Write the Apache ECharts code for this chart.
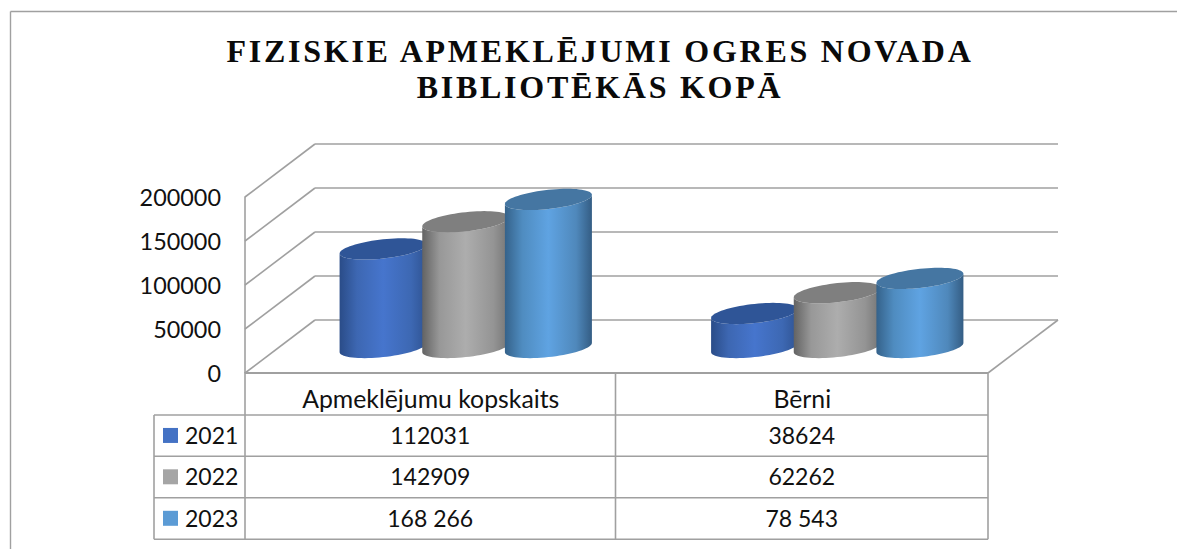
<!DOCTYPE html>
<html>
<head>
<meta charset="utf-8">
<style>
html,body{margin:0;padding:0;background:#fff;}
#c{width:1177px;height:549px;}
svg text[style*="Liberation Serif"]{letter-spacing:2.75px;}
</style>
<script src="https://cdn.jsdelivr.net/npm/echarts@6/dist/echarts.min.js"></script>
</head>
<body>
<div id="c"></div>
<script>
const titleText = 'FIZISKIE APMEKLĒJUMI OGRES NOVADA\nBIBLIOTĒKĀS KOPĀ';
const categories = ['Apmeklējumu kopskaits', 'Bērni'];
const years = ['2021', '2022', '2023'];
const values2021 = [112031, 38624];
const values2022 = [142909, 62262];
const values2023 = [168266, 78543];
const tableText2021 = ['112031', '38624'];
const tableText2022 = ['142909', '62262'];
const tableText2023 = ['168 266', '78 543'];
const yTicks = [0, 50000, 100000, 150000, 200000];

const seriesValues = [values2021, values2022, values2023];
const tableText = [tableText2021, tableText2022, tableText2023];
const keyColors = ['#4472c4', '#a5a5a5', '#5b9bd5'];
const sideStops = [
  ['#2a4c88', '#3d67b2', '#4675cd', '#3d68b3', '#2f5392'],
  ['#636363', '#989898', '#adadad', '#949494', '#747474'],
  ['#35628a', '#4f8cc0', '#5fa3e2', '#4f88bb', '#345d84']
];
const topColors = ['#2f5597', '#7f7f7f', '#4576a2'];
const lineColor = '#a0a0a0';
const DEPTH_X = 70, DEPTH_Y = -53;

function wallItem(params, api) {
  const cs = params.coordSys;
  const y = api.coord([0, api.value(0)])[1];
  const x0 = cs.x;
  const x1 = x0 + DEPTH_X, y1 = y + DEPTH_Y, x2 = cs.x + cs.width + DEPTH_X;
  const st = {stroke: lineColor, lineWidth: 1.6, fill: null};
  return {
    type: 'group',
    children: [
      {type: 'line', shape: {x1: x0, y1: y, x2: x1, y2: y1}, style: st},
      {type: 'line', shape: {x1: x1, y1: y1, x2: x2, y2: y1}, style: st}
    ]
  };
}

function floorItem(params) {
  const cs = params.coordSys;
  const r = cs.x + cs.width, b = cs.y + cs.height;
  return {type: 'line', shape: {x1: r, y1: b, x2: r + DEPTH_X, y2: b + DEPTH_Y},
    style: {stroke: lineColor, lineWidth: 1.6, fill: null}};
}

function cylinderRender(si) {
  return function (params, api) {
    const base = api.coord([api.value(0), 0]);
    const top = api.coord([api.value(0), api.value(1)]);
    const band = api.size([1, 0])[0];
    const cx = base[0] + DEPTH_X / 2 + (si - 1) * band * 0.2225;
    const by = base[1] + DEPTH_Y / 2 + 1;
    const ty = top[1] + DEPTH_Y / 2 + 1;
    const a = 43.5, k = 4.6, b = 9.6, n = 36;
    const pt = (t, yc) => [cx + a * Math.cos(t), yc - k * Math.cos(t) + b * Math.sin(t)];
    const body = [];
    for (let i = 0; i <= n; i++) body.push(pt(Math.PI - Math.PI * i / n, by));
    for (let i = 0; i <= n; i++) body.push(pt(Math.PI * i / n, ty));
    const lid = [];
    for (let i = 0; i < n * 2; i++) lid.push(pt(Math.PI * i / n, ty));
    const s = sideStops[si];
    return {
      type: 'group',
      children: [
        {type: 'polygon', shape: {points: body}, style: {
          fill: {type: 'linear', x: 0, y: 0, x2: 1, y2: 0, colorStops: [
            {offset: 0, color: s[0]}, {offset: 0.2, color: s[1]}, {offset: 0.5, color: s[2]},
            {offset: 0.82, color: s[3]}, {offset: 1, color: s[4]}]}}},
        {type: 'polygon', shape: {points: lid}, style: {fill: topColors[si]}}
      ]
    };
  };
}

const font = 'Lato';
const tableFs = 23, axisFs = 23.4, headFs = 24.8;
const L = 154, I = 245, M = 615.5, R = 988, T = 374, rowY = [415, 456.3, 497.7, 539.3];
const gLine = (x1, y1, x2, y2, w) => ({type: 'line', silent: true, z: 5,
  shape: {x1, y1, x2, y2}, style: {stroke: lineColor, lineWidth: w || 1.6}});
const gText = (x, y, text, align) => ({type: 'text', x, y, z: 6, silent: true,
  style: {text, fill: '#111', font: tableFs + 'px ' + font, textAlign: align || 'center', textVerticalAlign: 'middle'}});

const graphics = [
  gLine(10.5, 11.5, 1177, 11.5, 1.4),
  gLine(10.5, 11.5, 10.5, 549, 1.4),
  gLine(I, T, I, rowY[3]), gLine(M, T, M, rowY[3]), gLine(R, T, R, rowY[3]),
  gLine(L, rowY[0], L, rowY[3]),
  gLine(L, rowY[0], R, rowY[0]), gLine(L, rowY[1], R, rowY[1]),
  gLine(L, rowY[2], R, rowY[2]), gLine(L, rowY[3], R, rowY[3])
];
years.forEach((yr, r) => {
  const cy = (rowY[r] + rowY[r + 1]) / 2 - 0.7;
  graphics.push({type: 'rect', z: 6, silent: true, shape: {x: 163, y: cy - 7, width: 15, height: 15}, style: {fill: keyColors[r]}});
  graphics.push(gText(185, cy, yr, 'left'));
  graphics.push(gText((I + M) / 2, cy, tableText[r][0]));
  graphics.push(gText((M + R) / 2, cy, tableText[r][1]));
});

const chart = echarts.init(document.getElementById('c'), null, {renderer: 'svg', width: 1177, height: 549});
chart.setOption({
  animation: false,
  backgroundColor: '#fff',
  title: {
    text: titleText, left: 595, top: 28, textAlign: 'center',
    textStyle: {fontFamily: 'Liberation Serif', fontWeight: 'bold', fontSize: 32, lineHeight: 36, color: '#0a0a0a'}
  },
  grid: {left: 245, width: 743, top: 197, height: 176},
  xAxis: {
    type: 'category', data: categories,
    axisTick: {show: false},
    axisLine: {lineStyle: {color: lineColor, width: 2}},
    axisLabel: {fontFamily: font, fontSize: headFs, color: '#111', margin: 13}
  },
  yAxis: {
    type: 'value', min: 0, max: 200000, interval: 50000,
    splitLine: {show: false},
    axisTick: {show: false},
    axisLine: {show: true, lineStyle: {color: lineColor, width: 1.6}},
    axisLabel: {fontFamily: font, fontSize: axisFs, color: '#111', margin: 24, formatter: v => String(v)}
  },
  series: [
    {type: 'custom', name: 'walls', coordinateSystem: 'cartesian2d', silent: true, z: 1,
      encode: {y: 0}, data: yTicks.map(v => [v]),
      renderItem: wallItem},
    {type: 'custom', name: 'floor', coordinateSystem: 'cartesian2d', silent: true, z: 1,
      data: [[0]], renderItem: floorItem},
    ...years.map((yr, si) => ({
      type: 'custom', name: yr, coordinateSystem: 'cartesian2d', z: 2 + si,
      encode: {x: 0, y: 1},
      data: categories.map((c, i) => [i, seriesValues[si][i]]),
      renderItem: cylinderRender(si)
    }))
  ],
  graphic: graphics
});
</script>
</body>
</html>
